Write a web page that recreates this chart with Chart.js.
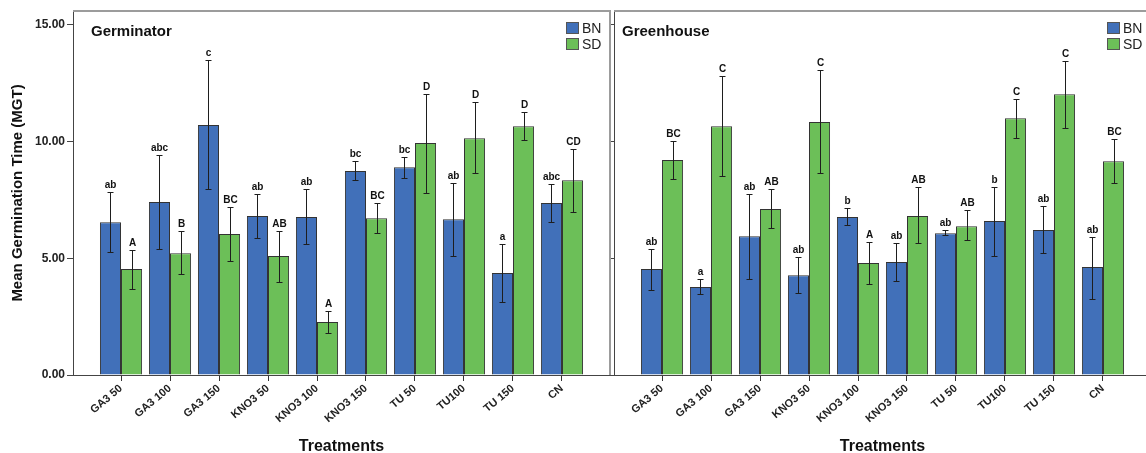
<!DOCTYPE html>
<html>
<head>
<meta charset="utf-8">
<script src="https://cdn.jsdelivr.net/npm/chart.js@4.4.0/dist/chart.umd.min.js"></script>
<style>
    html, body { margin: 0; padding: 0; background: #fff; overflow: hidden; }
    .panel { position: absolute; top: 0; height: 453px; }
    #boxLeft { left: 0; width: 612px; }
    #boxRight { left: 608px; width: 545px; }
</style>
</head>
<body>
<div class="panel" id="boxLeft"><canvas id="germinatorChart"></canvas></div>
<div class="panel" id="boxRight"><canvas id="greenhouseChart"></canvas></div>
<script>
const treatments = ['GA3 50', 'GA3 100', 'GA3 150', 'KNO3 50', 'KNO3 100', 'KNO3 150', 'TU 50', 'TU100', 'TU 150', 'CN']
const yTicks = [0, 5, 10, 15]

// Germinator
const germBN = [6.55, 7.41, 10.71, 6.81, 6.77, 8.74, 8.90, 6.68, 4.37, 7.37]
const germBNHigh = [7.84, 9.42, 13.49, 7.75, 7.97, 9.16, 9.34, 8.22, 5.61, 8.18]
const germBNLow = [5.27, 5.40, 7.97, 5.87, 5.61, 8.35, 8.46, 5.10, 3.13, 6.55]
const germBNLetters = ['ab', 'abc', 'c', 'ab', 'ab', 'bc', 'bc', 'ab', 'a', 'abc']

const germSD = [4.54, 5.22, 6.04, 5.10, 2.27, 6.72, 9.94, 10.15, 10.66, 8.35]
const germSDHigh = [5.35, 6.17, 7.19, 6.17, 2.74, 7.37, 12.03, 11.69, 11.26, 9.68]
const germSDLow = [3.68, 4.33, 4.88, 3.98, 1.80, 6.08, 7.79, 8.65, 10.06, 6.98]
const germSDLetters = ['A', 'B', 'BC', 'AB', 'A', 'BC', 'D', 'D', 'D', 'CD']

// Greenhouse
const greenBN = [4.54, 3.77, 5.95, 4.28, 6.77, 4.84, 6.08, 6.60, 6.21, 4.63]
const greenBNHigh = [5.40, 4.11, 7.75, 5.05, 7.15, 5.65, 6.21, 8.07, 7.24, 5.91]
const greenBNLow = [3.64, 3.47, 4.11, 3.51, 6.42, 4.03, 6.00, 5.10, 5.22, 3.25]
const greenBNLetters = ['ab', 'a', 'ab', 'ab', 'b', 'ab', 'ab', 'b', 'ab', 'ab']

const greenSD = [9.21, 10.66, 7.11, 10.84, 4.80, 6.81, 6.38, 11.00, 12.03, 9.16]
const greenSDHigh = [10.02, 12.81, 7.97, 13.06, 5.70, 8.05, 7.07, 11.82, 13.45, 10.11]
const greenSDLow = [8.39, 8.52, 6.30, 8.65, 3.90, 5.65, 5.78, 10.15, 10.58, 8.22]
const greenSDLetters = ['BC', 'C', 'AB', 'C', 'A', 'AB', 'AB', 'C', 'C', 'BC']

const BLUE = '#4170b9'
const GREEN = '#6cbf58'

// error bars + letters above them
const errorBarPlugin = {
    id: 'errorBars',
    afterDatasetsDraw(chart) {
        const ctx = chart.ctx
        const yScale = chart.scales.y
        chart.data.datasets.forEach((ds, di) => {
            const meta = chart.getDatasetMeta(di)
            meta.data.forEach((bar, i) => {
                const x = Math.round(bar.x) + 0.5
                const top = Math.round(yScale.getPixelForValue(ds.errHigh[i])) + 0.5
                const bottom = Math.round(yScale.getPixelForValue(ds.errLow[i])) + 0.5
                ctx.save()
                ctx.strokeStyle = '#1e1e1e'
                ctx.lineWidth = 1
                ctx.beginPath()
                ctx.moveTo(x, top)
                ctx.lineTo(x, bottom)
                ctx.moveTo(x - 3, top)
                ctx.lineTo(x + 3, top)
                ctx.moveTo(x - 3, bottom)
                ctx.lineTo(x + 3, bottom)
                ctx.stroke()
                ctx.fillStyle = '#111'
                ctx.font = 'bold 10px Arial'
                ctx.textAlign = 'center'
                ctx.textBaseline = 'alphabetic'
                ctx.fillText(ds.letters[i], x, top - 5)
                ctx.restore()
            })
        })
    }
}

// frame, panel title and legend
const panelPlugin = {
    id: 'panel',
    afterDraw(chart, args, opts) {
        const ctx = chart.ctx
        const a = chart.chartArea
        ctx.save()
        ctx.strokeStyle = '#9c9c9c'
        ctx.lineWidth = 2
        ctx.beginPath()
        ctx.moveTo(a.left, a.top)
        ctx.lineTo(a.right, a.top)
        ctx.lineTo(a.right, a.bottom)
        ctx.stroke()

        ctx.fillStyle = '#111'
        ctx.font = 'bold 15px Arial'
        ctx.textAlign = 'left'
        ctx.textBaseline = 'alphabetic'
        ctx.fillText(opts.title, a.left + opts.titleOffset, a.top + 25)

        chart.data.datasets.forEach((ds, i) => {
            const lx = a.right - 44
            const ly = a.top + 11 + i * 16
            ctx.fillStyle = ds.backgroundColor
            ctx.fillRect(lx, ly, 13, 12)
            ctx.strokeStyle = '#555'
            ctx.lineWidth = 1
            ctx.strokeRect(lx + 0.5, ly + 0.5, 12, 11)
            ctx.fillStyle = '#222'
            ctx.font = '14px Arial'
            ctx.textBaseline = 'middle'
            ctx.fillText(ds.label, lx + 16, ly + 7)
        })
        ctx.restore()
    }
}

function makeDataset(label, color, values, high, low, letters) {
    return {
        label: label,
        backgroundColor: color,
        borderColor: '#333',
        borderWidth: 1,
        data: values.map((v, i) => ({ x: i, y: v })),
        errHigh: high,
        errLow: low,
        letters: letters
    }
}

function renderPanel(id, title, titleOffset, datasets, showYLabels) {
    const config = {
        type: 'bar',
        data: { datasets: datasets },
        options: {
            responsive: true,
            maintainAspectRatio: false,
            animation: false,
            layout: { padding: { top: 11, right: 2, left: 0, bottom: 0 } },
            categoryPercentage: 0.86,
            barPercentage: 1.0,
            plugins: {
                legend: { display: false },
                tooltip: { enabled: false },
                panel: { title: title, titleOffset: titleOffset }
            },
            scales: {
                x: {
                    type: 'linear',
                    offset: false,
                    min: -0.98,
                    max: 9.98,
                    afterBuildTicks: axis => { axis.ticks = treatments.map((t, i) => ({ value: i })) },
                    afterFit: axis => { axis.height = 78 },
                    ticks: {
                        autoSkip: false,
                        minRotation: 40,
                        maxRotation: 40,
                        padding: 1,
                        color: '#222',
                        font: { family: 'Arial', weight: 'bold', size: 11 },
                        callback: (v, i) => treatments[i]
                    },
                    grid: { offset: false, drawOnChartArea: false, drawTicks: true, tickLength: 6, color: '#333' },
                    border: { display: true, color: '#444', width: 1 },
                    title: {
                        display: true,
                        text: 'Treatments',
                        color: '#111',
                        font: { family: 'Arial', weight: 'bold', size: 16 },
                        padding: { top: 0, bottom: -3 }
                    }
                },
                y: {
                    min: 0,
                    max: 15.6,
                    afterBuildTicks: axis => { axis.ticks = yTicks.map(v => ({ value: v })) },
                    afterFit: axis => { axis.width = showYLabels ? 73 : 6 },
                    ticks: {
                        display: showYLabels,
                        padding: 2,
                        color: '#222',
                        font: { family: 'Arial', weight: 'bold', size: 12 },
                        callback: v => v.toFixed(2)
                    },
                    grid: { drawOnChartArea: false, drawTicks: true, tickLength: showYLabels ? 6 : 3, color: '#444' },
                    border: { display: true, color: '#444', width: 1 },
                    title: {
                        display: showYLabels,
                        text: 'Mean Germination Time (MGT)',
                        color: '#111',
                        font: { family: 'Arial', weight: 'bold', size: 15 },
                        padding: { top: 9, bottom: 0 }
                    }
                }
            }
        },
        plugins: [errorBarPlugin, panelPlugin]
    }
    new Chart(document.getElementById(id), config)
}

renderPanel('germinatorChart', 'Germinator', 18, [
    makeDataset('BN', BLUE, germBN, germBNHigh, germBNLow, germBNLetters),
    makeDataset('SD', GREEN, germSD, germSDHigh, germSDLow, germSDLetters)
], true)

renderPanel('greenhouseChart', 'Greenhouse', 8, [
    makeDataset('BN', BLUE, greenBN, greenBNHigh, greenBNLow, greenBNLetters),
    makeDataset('SD', GREEN, greenSD, greenSDHigh, greenSDLow, greenSDLetters)
], false)
</script>
</body>
</html>
